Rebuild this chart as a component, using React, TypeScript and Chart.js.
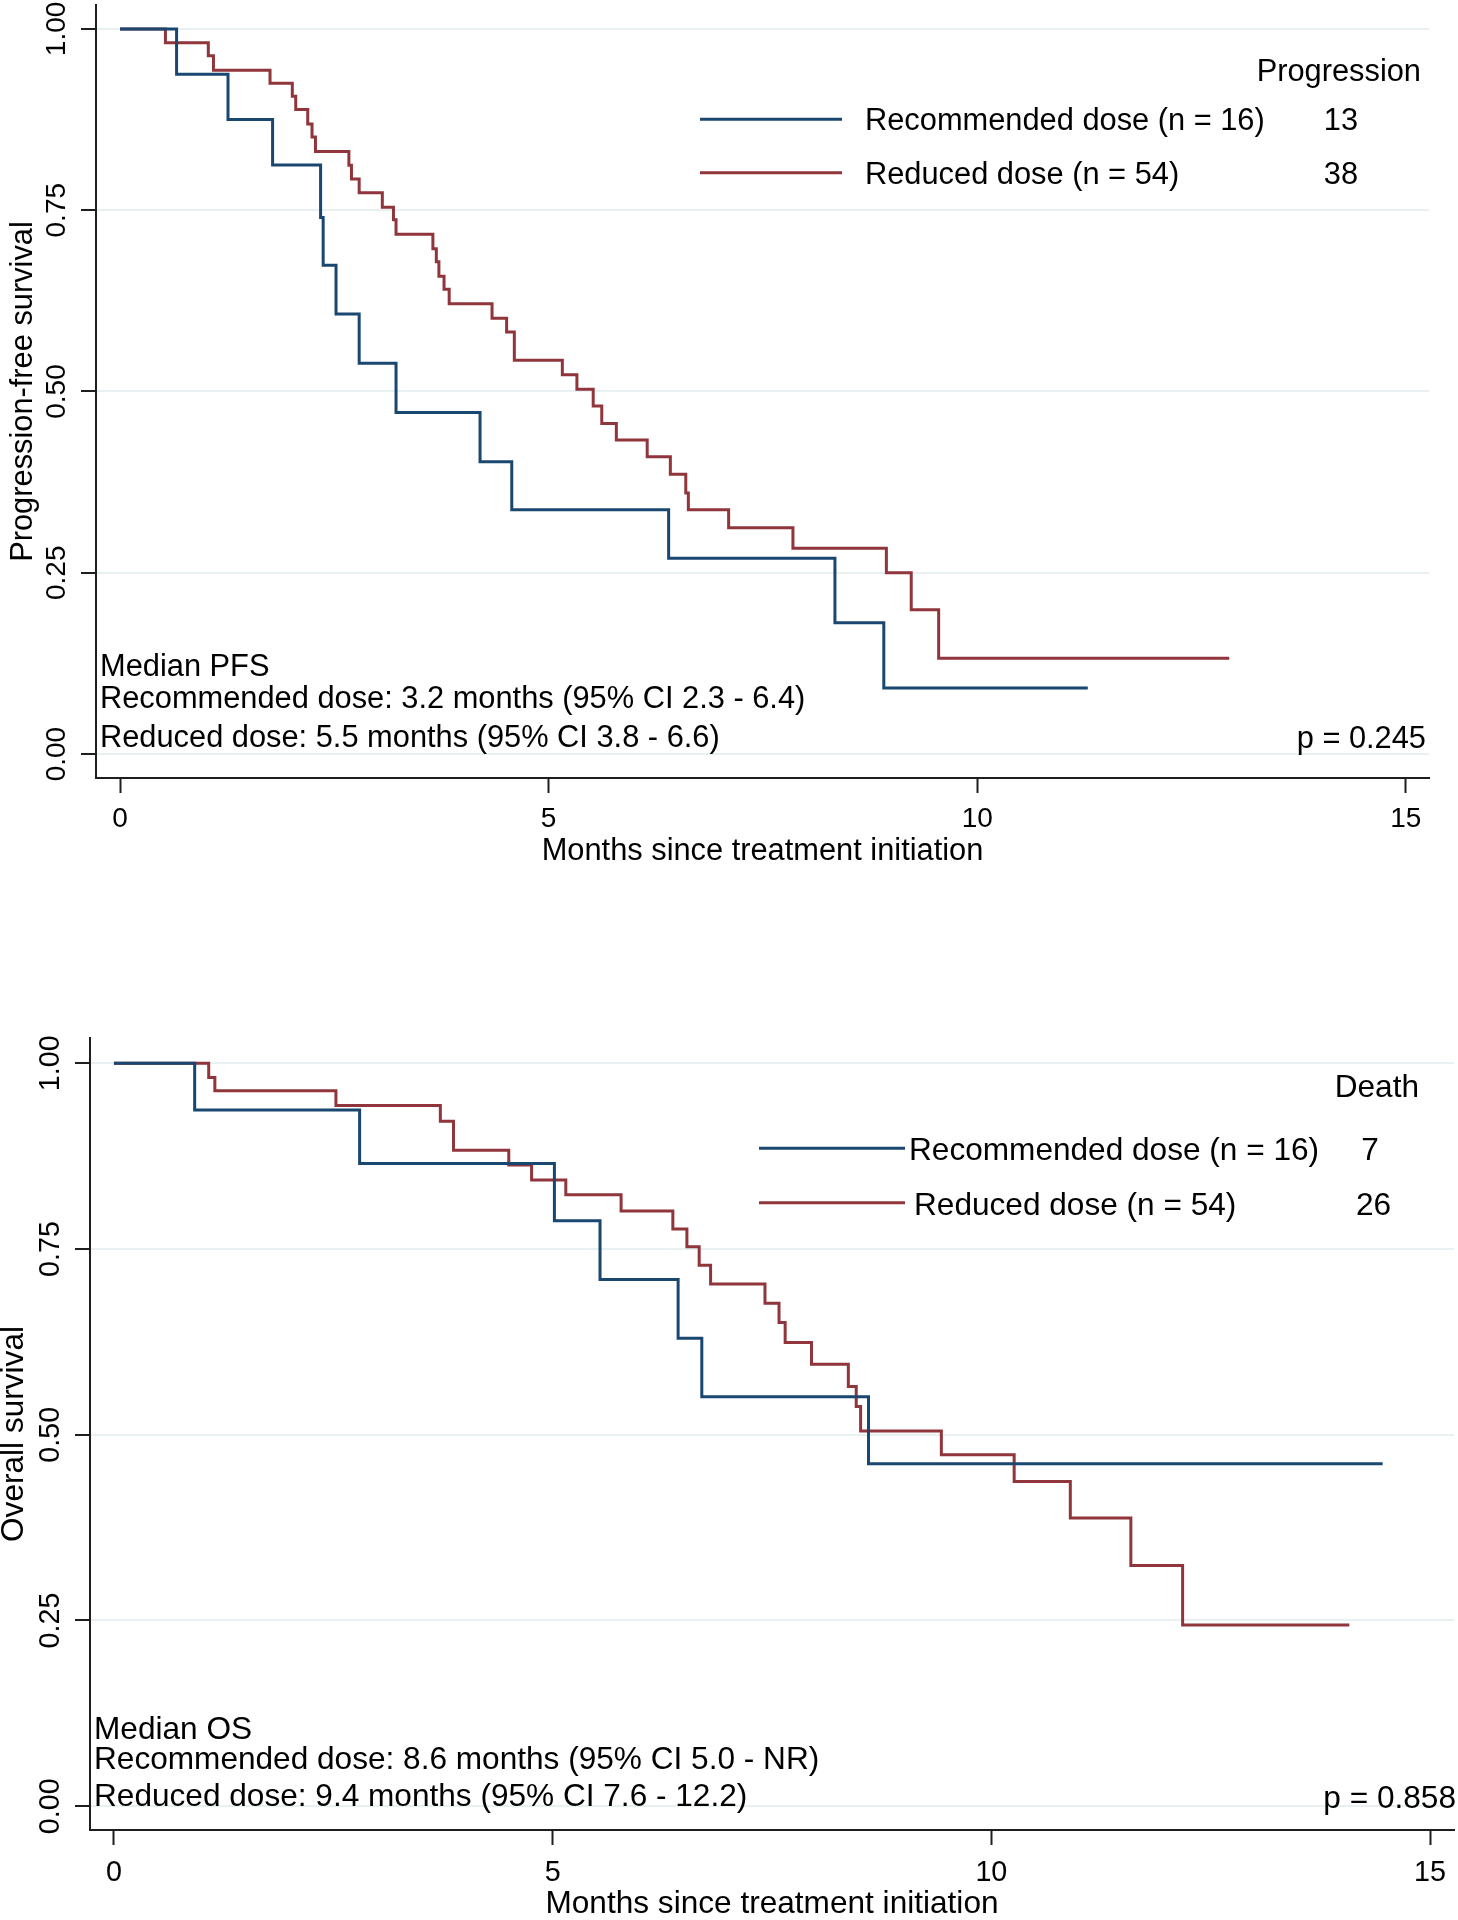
import React, { useEffect, useRef } from "react";
import { Chart, registerables } from "chart.js";

Chart.register(...registerables);

// ---------------- data ----------------
const xTickValues = [0, 5, 10, 15];
const yTickValues = [0, 0.25, 0.5, 0.75, 1];
const groupLabels = ["Recommended dose (n = 16)", "Reduced dose (n = 54)"];
const xAxisTitle = "Months since treatment initiation";

// Progression-free survival (Kaplan-Meier steps: time, survival after the step)
const pfsRecTime = [0, 0.66, 1.26, 1.78, 2.34, 2.37, 2.52, 2.79, 3.22, 4.2, 4.57, 6.4, 8.34, 8.91, 11.29];
const pfsRecSurv = [1, 0.9375, 0.875, 0.8125, 0.74, 0.674, 0.607, 0.539, 0.471, 0.403, 0.337, 0.27, 0.181, 0.091, 0.091];
const pfsRedTime = [0, 0.53, 1.03, 1.09, 1.75, 2.01, 2.05, 2.19, 2.24, 2.28, 2.67, 2.7, 2.79, 3.06, 3.19, 3.22, 3.65, 3.69, 3.72, 3.78, 3.84, 4.34, 4.51, 4.6, 5.16, 5.33, 5.52, 5.62, 5.79, 6.15, 6.42, 6.6, 6.63, 7.1, 7.85, 8.94, 9.23, 9.55, 12.94];
const pfsRedSurv = [1, 0.981, 0.963, 0.943, 0.925, 0.907, 0.889, 0.869, 0.851, 0.831, 0.812, 0.793, 0.774, 0.754, 0.737, 0.717, 0.697, 0.679, 0.659, 0.641, 0.621, 0.601, 0.582, 0.543, 0.523, 0.503, 0.48, 0.456, 0.433, 0.41, 0.386, 0.36, 0.337, 0.312, 0.284, 0.25, 0.199, 0.132, 0.132];
const pfsEvents = [13, 38];
const pfsEventsHeader = "Progression";
const pfsYTitle = "Progression-free survival";
const pfsMedianLines = [
  "Median PFS",
  "Recommended dose: 3.2 months (95% CI 2.3 - 6.4)",
  "Reduced dose: 5.5 months (95% CI 3.8 - 6.6)",
];
const pfsPValue = "p = 0.245";

// Overall survival
const osRecTime = [0, 0.92, 2.8, 5.02, 5.54, 6.43, 6.7, 8.6, 14.46];
const osRecSurv = [1, 0.937, 0.865, 0.788, 0.709, 0.63, 0.551, 0.461, 0.461];
const osRedTime = [0, 1.08, 1.15, 2.53, 3.72, 3.87, 4.5, 4.76, 5.15, 5.78, 6.37, 6.53, 6.67, 6.8, 7.42, 7.58, 7.65, 7.95, 8.37, 8.46, 8.51, 9.43, 10.26, 10.9, 11.59, 12.18, 14.08];
const osRedSurv = [1, 0.981, 0.963, 0.943, 0.922, 0.883, 0.863, 0.843, 0.823, 0.801, 0.777, 0.753, 0.728, 0.703, 0.677, 0.651, 0.624, 0.595, 0.565, 0.538, 0.505, 0.473, 0.437, 0.388, 0.324, 0.244, 0.244];
const osEvents = [7, 26];
const osEventsHeader = "Death";
const osYTitle = "Overall survival";
const osMedianLines = [
  "Median OS",
  "Recommended dose: 8.6 months (95% CI 5.0 - NR)",
  "Reduced dose: 9.4 months (95% CI 7.6 - 12.2)",
];
const osPValue = "p = 0.858";

// ---------------- styles / layout ----------------
const FONT_FAMILY = "'Liberation Sans', Arial, Helvetica, sans-serif";
const BLUE = "#1a476f";
const RED = "#90353b";
const GRID = "#e8f0f2";
const AXIS = "#1e1e1e";
const TEXT = "#000000";
const W = 1458;
const H = 960;

type Layout = {
  area: { left: number; top: number; right: number; bottom: number };
  xMin: number; xMax: number; yMin: number; yMax: number;
  textSize: number; tickSize: number;
  xTickPad: number; yTickPad: number; xTitlePad: number; yTitlePad: number;
  headerX: number; headerY: number;
  keyX0: number; keyX1: number; keyY: number[];
  labelX: number[]; labelY: number[]; countX: number[];
  medianX: number; medianY: number[];
  pX: number; pY: number;
};

const topLayout: Layout = {
  area: { left: 96, top: 5, right: 1429, bottom: 778 },
  xMin: -0.28, xMax: 15.27, yMin: -0.033, yMax: 1.033,
  textSize: 30.8, tickSize: 28,
  xTickPad: 9, yTickPad: -4, xTitlePad: 93.5, yTitlePad: 7.7,
  headerX: 1421, headerY: 73,
  keyX0: 700, keyX1: 842, keyY: [119.3, 172.7],
  labelX: [865, 865], labelY: [122, 176], countX: [1341, 1341],
  medianX: 100, medianY: [668, 700, 738.5],
  pX: 1426, pY: 739.5,
};

const bottomLayout: Layout = {
  area: { left: 90, top: 78, right: 1454, bottom: 870 },
  xMin: -0.273, xMax: 15.273, yMin: -0.032, yMax: 1.034,
  textSize: 31.6, tickSize: 28.7,
  xTickPad: 10.5, yTickPad: -4, xTitlePad: 0, yTitlePad: -1.5,
  headerX: 1419, headerY: 128,
  keyX0: 759, keyX1: 905, keyY: [188.3, 242.7],
  labelX: [909, 914], labelY: [191.5, 246], countX: [1370, 1373.5],
  medianX: 94, medianY: [770, 800, 837],
  pX: 1456, pY: 839,
};

type Panel = {
  recTime: number[]; recSurv: number[]; redTime: number[]; redSurv: number[];
  events: number[]; eventsHeader: string; yTitle: string; medianLines: string[]; pText: string;
  layout: Layout;
};

const pfsPanel: Panel = {
  recTime: pfsRecTime, recSurv: pfsRecSurv, redTime: pfsRedTime, redSurv: pfsRedSurv,
  events: pfsEvents, eventsHeader: pfsEventsHeader, yTitle: pfsYTitle,
  medianLines: pfsMedianLines, pText: pfsPValue, layout: topLayout,
};
const osPanel: Panel = {
  recTime: osRecTime, recSurv: osRecSurv, redTime: osRedTime, redSurv: osRedSurv,
  events: osEvents, eventsHeader: osEventsHeader, yTitle: osYTitle,
  medianLines: osMedianLines, pText: osPValue, layout: bottomLayout,
};

function toPoints(t: number[], s: number[]) {
  return t.map((x, i) => ({ x, y: s[i] }));
}

function buildChart(canvas: HTMLCanvasElement, p: Panel) {
  const L = p.layout;
  const annotPlugin = {
    id: "kmAnnot",
    afterDraw(chart: any) {
      const ctx = chart.ctx as CanvasRenderingContext2D;
      ctx.save();
      ctx.fillStyle = TEXT;
      ctx.textBaseline = "middle";
      ctx.font = `${L.textSize}px ${FONT_FAMILY}`;
      ctx.textAlign = "right";
      ctx.fillText(p.eventsHeader, L.headerX, L.headerY);
      chart.data.datasets.forEach((ds: any, i: number) => {
        ctx.strokeStyle = ds.borderColor;
        ctx.lineWidth = 3;
        ctx.lineCap = "butt";
        ctx.beginPath();
        ctx.moveTo(L.keyX0, L.keyY[i]);
        ctx.lineTo(L.keyX1, L.keyY[i]);
        ctx.stroke();
        ctx.textAlign = "left";
        ctx.fillText(ds.label, L.labelX[i], L.labelY[i]);
        ctx.textAlign = "center";
        ctx.fillText(String(p.events[i]), L.countX[i], L.labelY[i]);
      });
      ctx.textAlign = "left";
      p.medianLines.forEach((line, i) => ctx.fillText(line, L.medianX, L.medianY[i]));
      ctx.textAlign = "right";
      ctx.fillText(p.pText, L.pX, L.pY);
      ctx.restore();
    },
  };

  const lineStyle = {
    borderWidth: 3,
    stepped: true,
    pointRadius: 0,
    fill: false,
    borderJoinStyle: "miter",
    borderCapStyle: "butt",
  };

  return new Chart(canvas, {
    type: "line",
    data: {
      datasets: [
        {
          label: groupLabels[0],
          data: toPoints(p.recTime, p.recSurv),
          borderColor: BLUE,
          backgroundColor: BLUE,
          ...lineStyle,
        },
        {
          label: groupLabels[1],
          data: toPoints(p.redTime, p.redSurv),
          borderColor: RED,
          backgroundColor: RED,
          ...lineStyle,
        },
      ],
    },
    options: {
      responsive: false,
      animation: false,
      devicePixelRatio: 1,
      events: [],
      layout: { padding: { left: 0, top: L.area.top, right: W - L.area.right, bottom: 0 } },
      plugins: { legend: { display: false }, tooltip: { enabled: false } },
      scales: {
        x: {
          type: "linear",
          min: L.xMin,
          max: L.xMax,
          afterBuildTicks: (ax: any) => {
            ax.ticks = xTickValues.map((v) => ({ value: v }));
          },
          afterFit: (ax: any) => {
            ax.height = H - L.area.bottom;
            ax.paddingLeft = 0;
            ax.paddingRight = 0;
          },
          grid: { display: true, drawOnChartArea: false, drawTicks: true, tickLength: 15, tickColor: AXIS, tickWidth: 2 },
          border: { display: true, color: AXIS, width: 2 },
          ticks: {
            color: TEXT,
            font: { family: FONT_FAMILY, size: L.tickSize },
            padding: L.xTickPad,
            maxRotation: 0,
            minRotation: 0,
            autoSkip: false,
            callback: (v: any) => String(v),
          },
          title: {
            display: true,
            text: xAxisTitle,
            color: TEXT,
            font: { family: FONT_FAMILY, size: L.textSize, lineHeight: 1 },
            padding: { top: 0, bottom: L.xTitlePad },
          },
        },
        y: {
          type: "linear",
          min: L.yMin,
          max: L.yMax,
          afterBuildTicks: (ax: any) => {
            ax.ticks = yTickValues.map((v) => ({ value: v }));
          },
          afterFit: (ax: any) => {
            ax.width = L.area.left;
            ax.paddingTop = 0;
            ax.paddingBottom = 0;
          },
          grid: { display: true, drawOnChartArea: true, color: GRID, lineWidth: 2, drawTicks: true, tickLength: 15, tickColor: AXIS, tickWidth: 2 },
          border: { display: true, color: AXIS, width: 2 },
          ticks: {
            color: TEXT,
            font: { family: FONT_FAMILY, size: L.tickSize },
            padding: L.yTickPad,
            minRotation: 90,
            maxRotation: 90,
            crossAlign: "center",
            autoSkip: false,
            callback: (v: any) => Number(v).toFixed(2),
          },
          title: {
            display: true,
            text: p.yTitle,
            color: TEXT,
            font: { family: FONT_FAMILY, size: L.textSize, lineHeight: 1 },
            padding: { top: L.yTitlePad, bottom: 0 },
          },
        },
      },
    } as any,
    plugins: [annotPlugin],
  });
}

export default function App() {
  const topRef = useRef<HTMLCanvasElement>(null);
  const bottomRef = useRef<HTMLCanvasElement>(null);

  useEffect(() => {
    const charts: Chart[] = [];
    if (topRef.current) charts.push(buildChart(topRef.current, pfsPanel));
    if (bottomRef.current) charts.push(buildChart(bottomRef.current, osPanel));
    return () => charts.forEach((c) => c.destroy());
  }, []);

  return (
    <div style={{ position: "absolute", left: 0, top: 0, width: W, height: 2 * H, background: "#ffffff" }}>
      <canvas ref={topRef} width={W} height={H} style={{ display: "block" }} />
      <canvas ref={bottomRef} width={W} height={H} style={{ display: "block" }} />
    </div>
  );
}
